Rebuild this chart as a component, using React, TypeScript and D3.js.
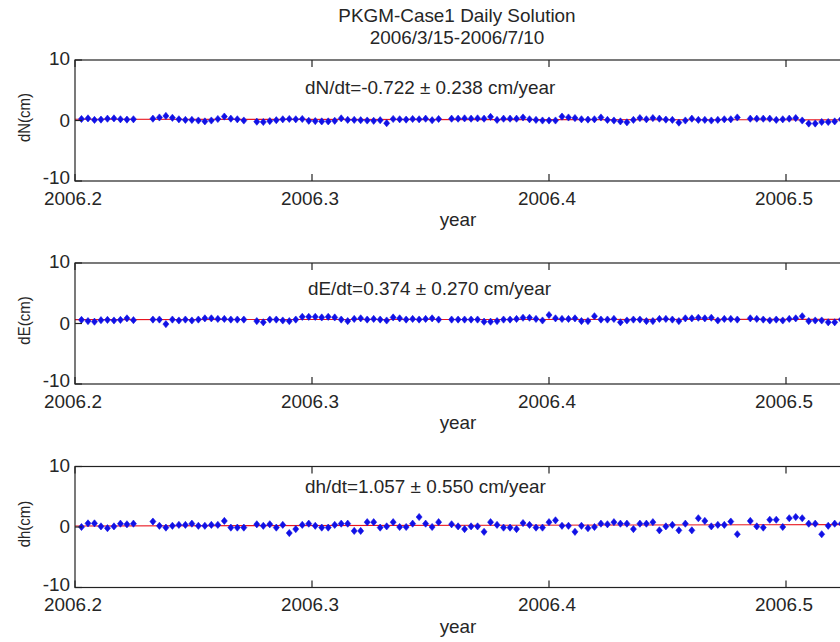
import React from "react";
import * as d3 from "d3";

// ---------- data (cm), one value per day starting 2006/3/15 (day of year 74); null = no solution ----------
const START_DOY = 74;
const dN: (number | null)[] = [
  0.25, 0.35, 0.1, 0.15, 0.3, 0.35, 0.2, 0.15, 0.2, null, null,
  0.3, 0.5, 0.75, 0.45, 0.2, 0.1, 0.1, 0, -0.15, 0, 0.25, 0.65, 0.3, 0.2, 0.0, null,
  -0.2, -0.25, -0.1, 0.05, 0.2, 0.25, 0.2, 0.25, -0.05, -0.1, -0.15, -0.15, -0.05, 0.35, 0.1,
  0.1, 0.05, 0.0, -0.05, 0.05, -0.45, 0.25, 0.2, 0.15, 0.25, 0.2, 0.3, 0.05, 0.25, null,
  0.3, 0.3, 0.35, 0.3, 0.35, 0.3, 0.6, 0.1, 0.3, 0.3, 0.3, 0.5, 0.2, 0.1, 0, 0, 0, 0.65, 0.5,
  0.4, 0.2, 0.15, 0.2, 0.5, 0.1, 0, -0.15, -0.3, 0.1, 0.4, 0.2, 0.4, 0.3, 0.15, 0.1, -0.35,
  0, 0.3, 0.1, 0.1, 0, 0.1, 0.2, 0.2, 0.5, null,
  0.3, 0.3, 0.3, 0.3, 0.1, 0.2, 0.3, 0.4, 0, -0.5, -0.5, -0.25, -0.25, -0.15, 0.2,
];
const dE: (number | null)[] = [
  0.6, 0.4, 0.3, 0.55, 0.6, 0.5, 0.6, 0.85, 0.55, null, null,
  0.65, 0.65, -0.1, 0.65, 0.5, 0.65, 0.5, 0.65, 0.85, 0.85, 0.75, 0.75, 0.65, 0.65, 0.65, null,
  0.4, 0.2, 0.65, 0.65, 0.5, 0.4, 0.65, 1.1, 1.1, 1.1, 1.0, 1.1, 1.0, 0.65, 0.4, 0.75, 0.85,
  0.65, 0.75, 0.65, 0.5, 1.0, 0.85, 0.65, 0.75, 0.65, 0.75, 0.85, 0.65, null,
  0.65, 0.65, 0.65, 0.65, 0.65, 0.3, 0.3, 0.4, 0.65, 0.65, 0.75, 0.95, 0.95, 0.75, 0.5, 1.4,
  0.85, 0.75, 0.75, 0.85, 0.4, 0.4, 1.2, 0.65, 0.65, 0.75, 0.2, 0.5, 0.65, 0.65, 0.4, 0.4,
  0.75, 0.75, 0.65, 0.4, 0.85, 0.85, 0.95, 0.85, 0.95, 0.5, 0.75, 0.75, 0.65, null,
  0.85, 0.75, 0.65, 0.5, 0.65, 0.5, 0.75, 0.85, 1.2, 0.4, 0.5, 0.5, 0.2, 0.2, 0.65,
];
const dh: (number | null)[] = [
  0, 0.6, 0.6, 0.1, -0.2, 0.1, 0.55, 0.45, 0.55, null, null,
  0.9, 0.2, -0.1, 0.2, 0.35, 0.35, 0.55, 0.2, 0.2, 0.35, 0.35, 1.0, -0.1, -0.1, -0.1, null,
  0.45, 0.2, 0.45, -0.1, 0.35, -1.0, -0.35, 0.35, 0.55, 0.2, -0.1, -0.1, 0.35, 0.55, 0.55,
  -0.65, -0.65, 0.8, 0.8, -0.1, 0.1, 0.8, 0, 0, 0.55, 1.65, 0.55, 0, 0.8, null,
  0.45, 0.1, -0.35, 0.1, 0.1, -0.8, 0.8, 0.35, -0.1, -0.1, -0.35, 0.65, 0.35, -0.1, -0.1, 0.8,
  1.1, 0.2, 0.2, -0.8, 0.2, -0.2, 0, 0.55, 0.45, 0.8, 0.55, 0.55, -0.35, 0.55, 0.55, 0.8,
  -0.55, 0.1, 0.35, -0.55, 0.55, -0.55, 1.45, 1.0, 0.1, 0.35, 0.35, 0.9, -1.2, null,
  1.0, 0.1, -0.1, 1.2, 1.2, 0, 1.45, 1.65, 1.45, 0.55, 0.55, -1.2, 0.2, 0.55, 0.55,
];

const seriesList = [dN, dE, dh];
const yLabels = ["dN(cm)", "dE(cm)", "dh(cm)"];
const rateTexts = [
  "dN/dt=-0.722 \u00b1 0.238 cm/year",
  "dE/dt=0.374 \u00b1 0.270 cm/year",
  "dh/dt=1.057 \u00b1 0.550 cm/year",
];
const titleLines = ["PKGM-Case1 Daily Solution", "2006/3/15-2006/7/10"];
const xTicks = [2006.2, 2006.3, 2006.4, 2006.5];
const yTicks = [-10, 0, 10];
const xLabel = "year";

// ---------- layout ----------
const W = 840;
const H = 642;
const LEFT = 75;
const X_DOMAIN: [number, number] = [2006.2, 2006.524];
const PANEL_TOPS = [60, 263, 466.5];
const PANEL_H = 121;
const RATE_BASE = [93.5, 294.5, 493];
const RATE_X = [305, 308, 305];
const FONT = "'Liberation Sans', Arial, Helvetica, sans-serif";
const FS = 17.5;
const SX = 1.08;
const TXT = "#262626";
const AX = "#222";
const TICK = 7;

const xScale = d3.scaleLinear().domain(X_DOMAIN).range([LEFT, LEFT + (X_DOMAIN[1] - X_DOMAIN[0]) * 2370]);

function T({ x, y, anchor = "start", children, size = FS }: any) {
  return (
    <text
      transform={`translate(${x},${y}) scale(${SX},1)`}
      textAnchor={anchor}
      fontFamily={FONT}
      fontSize={size}
      fill={TXT}
    >
      {children}
    </text>
  );
}

function Panel({ idx }: { idx: number }) {
  const top = PANEL_TOPS[idx];
  const bottom = top + PANEL_H;
  const yScale = d3.scaleLinear().domain([-10, 10]).range([bottom, top]);
  const [x0, x1] = xScale.range();
  const pts = seriesList[idx]
    .map((v, k) => (v == null ? null : { t: 2006 + (START_DOY + k) / 365, v }))
    .filter((p): p is { t: number; v: number } => p !== null);
  // least-squares linear trend
  const mt = d3.mean(pts, (p) => p.t)!;
  const mv = d3.mean(pts, (p) => p.v)!;
  const slope =
    d3.sum(pts, (p) => (p.t - mt) * (p.v - mv)) / d3.sum(pts, (p) => (p.t - mt) * (p.t - mt));
  const fit = (t: number) => mv + slope * (t - mt);
  const line = d3
    .line<number>()
    .x((t) => xScale(t))
    .y((t) => yScale(fit(t)));
  const diamond = "M0,-3.6L3,0L0,3.6L-3,0Z";
  const midY = (top + bottom) / 2;
  return (
    <g>
      <rect x={x0} y={top} width={x1 - x0} height={PANEL_H} fill="#fff" />
      <path d={line(X_DOMAIN as number[]) || ""} stroke="#e8141e" strokeWidth={1.1} fill="none" />
      {pts.map((p, i) => (
        <path
          key={i}
          d={diamond}
          transform={`translate(${xScale(p.t)},${yScale(p.v)})`}
          fill="#1010e6"
          stroke="#1010e6"
          strokeWidth={0.6}
        />
      ))}
      {/* axes box */}
      <rect x={x0} y={top} width={x1 - x0} height={PANEL_H} fill="none" stroke={AX} strokeWidth={1.2} />
      {xTicks.map((t) => (
        <g key={t}>
          <line x1={xScale(t)} x2={xScale(t)} y1={top} y2={top + TICK} stroke={AX} strokeWidth={1.2} />
          <line x1={xScale(t)} x2={xScale(t)} y1={bottom} y2={bottom - TICK} stroke={AX} strokeWidth={1.2} />
          <T x={xScale(t) - 2} y={bottom + 23.5} anchor="middle">
            {d3.format(".1f")(t)}
          </T>
        </g>
      ))}
      {yTicks.map((v) => (
        <g key={v}>
          <line x1={x0} x2={x0 + TICK} y1={yScale(v)} y2={yScale(v)} stroke={AX} strokeWidth={1.2} />
          <T x={70} y={v === 10 ? top + 5 : v === -10 ? bottom + 3 : midY + 6.3} anchor="end">
            {String(v)}
          </T>
        </g>
      ))}
      <text
        transform={`translate(${29.5},${midY - 3}) rotate(-90) scale(1,1.15)`}
        textAnchor="middle"
        fontFamily={FONT}
        fontSize={15}
        fill={TXT}
      >
        {yLabels[idx]}
      </text>
      <T x={458} y={bottom + 45} anchor="middle">
        {xLabel}
      </T>
      <T x={RATE_X[idx]} y={RATE_BASE[idx]}>
        {rateTexts[idx]}
      </T>
    </g>
  );
}

export default function App() {
  return (
    <svg
      width={W}
      height={H}
      viewBox={`0 0 ${W} ${H}`}
      style={{ position: "absolute", left: 0, top: 0, background: "#fff" }}
    >
      <rect x={0} y={0} width={W} height={H} fill="#fff" />
      <T x={457} y={21.5} anchor="middle">
        {titleLines[0]}
      </T>
      <T x={457} y={43.5} anchor="middle">
        {titleLines[1]}
      </T>
      {[0, 1, 2].map((i) => (
        <Panel key={i} idx={i} />
      ))}
    </svg>
  );
}
